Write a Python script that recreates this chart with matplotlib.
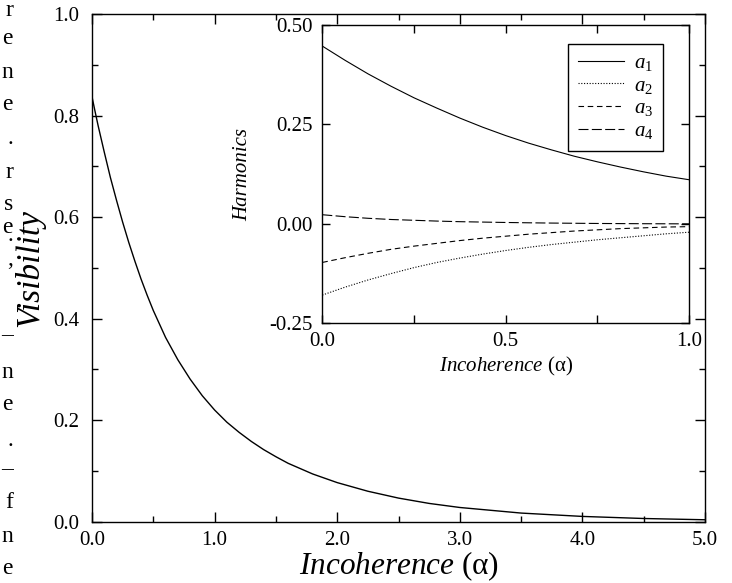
import numpy as np
import matplotlib
matplotlib.use("Agg")
import matplotlib.pyplot as plt
from matplotlib.ticker import MultipleLocator, FormatStrFormatter

## Data
# main plot: visibility vs incoherence
alpha_main = [0.0, 0.025, 0.05, 0.075, 0.1, 0.15, 0.2, 0.25, 0.3, 0.35, 0.4, 0.45, 0.5,
              0.6, 0.7, 0.8, 0.9, 1.0, 1.1, 1.2, 1.3, 1.4, 1.5, 1.6, 1.8, 2.0,
              2.25, 2.5, 2.75, 3.0, 3.5, 4.0, 4.5, 5.0]
visibility = [0.837, 0.808, 0.780, 0.754, 0.728, 0.678, 0.633, 0.590, 0.550, 0.513, 0.478,
              0.446, 0.416, 0.363, 0.319, 0.281, 0.248, 0.220, 0.196, 0.176, 0.158,
              0.142, 0.128, 0.115, 0.094, 0.077, 0.060, 0.0465, 0.036, 0.028, 0.017,
              0.0104, 0.0063, 0.0038]

# inset: harmonics vs incoherence
alpha_inset = [0.0, 0.0625, 0.125, 0.1875, 0.25, 0.3125, 0.375, 0.4375, 0.5,
               0.5625, 0.625, 0.6875, 0.75, 0.8125, 0.875, 0.9375, 1.0]
a1 = [0.447, 0.411, 0.377, 0.346, 0.317, 0.291, 0.266, 0.243, 0.222,
      0.203, 0.186, 0.170, 0.156, 0.143, 0.131, 0.120, 0.111]
a2 = [-0.179, -0.159, -0.141, -0.125, -0.110, -0.097, -0.086, -0.076, -0.067,
      -0.059, -0.052, -0.046, -0.040, -0.035, -0.030, -0.025, -0.021]
a3 = [-0.097, -0.085, -0.074, -0.064, -0.056, -0.049, -0.042, -0.036, -0.031,
      -0.026, -0.022, -0.018, -0.015, -0.012, -0.010, -0.008, -0.007]
a4 = [0.023, 0.018, 0.014, 0.011, 0.009, 0.007, 0.0055, 0.0045, 0.0035,
      0.0027, 0.002, 0.0015, 0.001, 0.0007, 0.0004, 0.0002, 0.0]

harmonic_labels = [r'$a_1$', r'$a_2$', r'$a_3$', r'$a_4$']

# bits of the neighbouring page text cut at the left margin
margin_chars = ['r', 'e', 'n', 'e', '.', 'r', 's', 'e', '.', ',', '–', 'n', 'e', '.', '–', 'f', 'n', 'e']
margin_y = [11, 38, 72, 105, 139, 173, 205, 228, 236, 259, 336, 373, 405, 441, 470, 503, 537, 569]

plt.rcParams['font.family'] = 'Liberation Serif'
plt.rcParams['mathtext.fontset'] = 'custom'
plt.rcParams['mathtext.rm'] = 'Liberation Serif'
plt.rcParams['mathtext.it'] = 'Liberation Serif:italic'
plt.rcParams['mathtext.default'] = 'it'
plt.rcParams['xtick.direction'] = 'in'
plt.rcParams['ytick.direction'] = 'in'
plt.rcParams['xtick.top'] = True
plt.rcParams['ytick.right'] = True
plt.rcParams['axes.linewidth'] = 1.0

W, H = 732, 583
fig = plt.figure(figsize=(W / 100, H / 100), dpi=100)

## main axes
ax = fig.add_axes([92 / W, 1 - 521.7 / H, 613 / W, 507.7 / H])
ax.plot(alpha_main, visibility, color='black', lw=1.0)
ax.set_xlim(0, 5)
ax.set_ylim(0, 1)
ax.xaxis.set_major_locator(MultipleLocator(1.0))
ax.xaxis.set_minor_locator(MultipleLocator(0.5))
ax.yaxis.set_major_locator(MultipleLocator(0.2))
ax.yaxis.set_minor_locator(MultipleLocator(0.1))
ax.xaxis.set_major_formatter(FormatStrFormatter('%.1f'))
ax.yaxis.set_major_formatter(FormatStrFormatter('%.1f'))
ax.tick_params(which='major', length=7, width=1, labelsize=15)
ax.tick_params(which='minor', length=4, width=1)
ax.tick_params(axis='x', pad=7)
ax.tick_params(axis='y', pad=9)
ax.set_xlabel(r'$Incoherence\ \mathrm{(\alpha)}$', fontsize=22.5, labelpad=-1)
ax.set_ylabel('Visibility', fontsize=24, fontstyle='italic', labelpad=6)

## inset
ins = fig.add_axes([322.3 / W, 1 - 323.3 / H, 366.7 / W, 298.3 / H])
ins.plot(alpha_inset, a1, color='black', lw=0.8, ls='-', label=harmonic_labels[0])
ins.plot(alpha_inset, a2, color='black', lw=0.8, ls=(0, (1, 1.5)), label=harmonic_labels[1])
ins.plot(alpha_inset, a3, color='black', lw=0.8, ls=(0, (5, 3.3)), label=harmonic_labels[2])
ins.plot(alpha_inset, a4, color='black', lw=0.8, ls=(0, (9, 3)), label=harmonic_labels[3])
ins.set_xlim(0, 1)
ins.set_ylim(-0.25, 0.5)
ins.xaxis.set_major_locator(MultipleLocator(0.5))
ins.xaxis.set_minor_locator(MultipleLocator(0.25))
ins.yaxis.set_major_locator(MultipleLocator(0.25))
ins.xaxis.set_major_formatter(FormatStrFormatter('%.1f'))
ins.yaxis.set_major_formatter(FormatStrFormatter('%.2f'))
ins.tick_params(which='major', length=6, width=1, labelsize=15)
ins.tick_params(which='minor', length=6, width=1)
ins.tick_params(axis='x', pad=6)
ins.tick_params(axis='y', pad=7)
ins.set_xlabel(r'$Incoherence\ \mathrm{(\alpha)}$', fontsize=15, labelpad=3)
ins.set_ylabel('Harmonics', fontsize=15, fontstyle='italic', labelpad=12)

leg = ins.legend(loc='upper left', bbox_to_anchor=(0.671, 0.936), borderaxespad=0,
                 fontsize=15, handlelength=2.2, handletextpad=0.5, labelspacing=0.15,
                 borderpad=0.45, fancybox=False, framealpha=1, edgecolor='black')
leg.get_frame().set_linewidth(1.0)

for ch, yy in zip(margin_chars, margin_y):
    fig.text(13 / W, 1 - yy / H, ch, ha='right', va='center', fontsize=17)

fig.savefig('out.png', dpi=100)
